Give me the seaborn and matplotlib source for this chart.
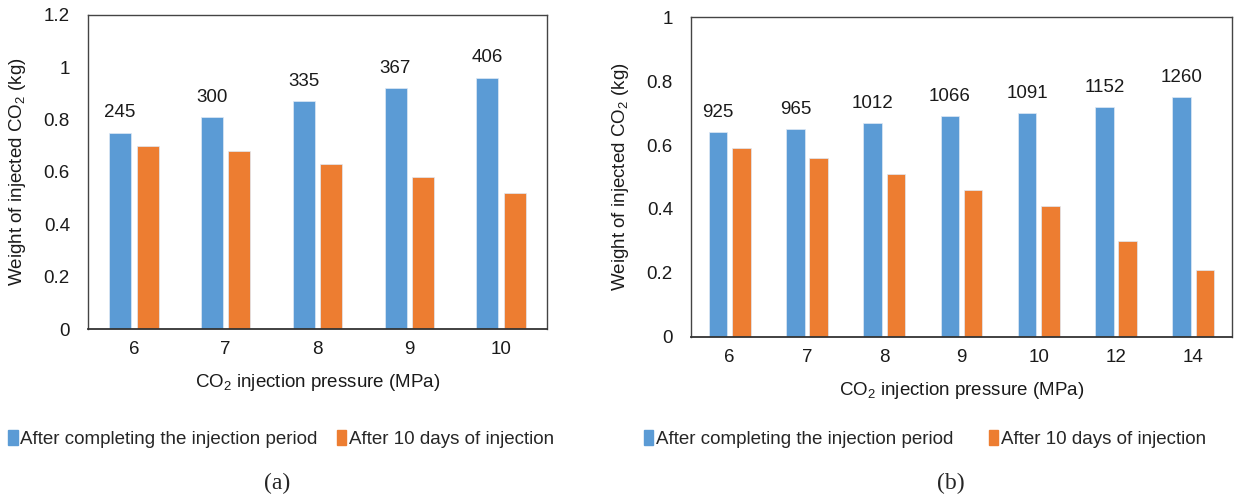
import pandas as pd
import matplotlib.pyplot as plt
import seaborn as sns

# (a) data
pressure_a = ["6", "7", "8", "9", "10"]
after_completing_a = [0.75, 0.81, 0.87, 0.92, 0.96]
after_10days_a = [0.70, 0.68, 0.63, 0.58, 0.52]
counts_a = ["245", "300", "335", "367", "406"]

# (b) data
pressure_b = ["6", "7", "8", "9", "10", "12", "14"]
after_completing_b = [0.64, 0.65, 0.67, 0.69, 0.70, 0.72, 0.75]
after_10days_b = [0.59, 0.56, 0.51, 0.46, 0.41, 0.30, 0.21]
counts_b = ["925", "965", "1012", "1066", "1091", "1152", "1260"]

series_names = ["After completing the injection period", "After 10 days of injection"]
colors = ["#5B9BD5", "#ED7D31"]

sns.set_theme(style="white")
plt.rcParams["font.family"] = ["Liberation Sans", "DejaVu Sans"]
plt.rcParams["mathtext.default"] = "regular"

FS = 13.5


def long_table(pressure, first, second):
    df = pd.DataFrame({
        "pressure": pressure * 2,
        "weight": first + second,
        "stage": [series_names[0]] * len(pressure) + [series_names[1]] * len(pressure),
    })
    return df


fig = plt.figure(figsize=(12.34, 4.99), dpi=100)

W, H = 1234, 499
ax_a = fig.add_axes([88 / W, (H - 329) / H, (547 - 88) / W, (329 - 14.7) / H])
ax_b = fig.add_axes([691 / W, (H - 336.7) / H, (1232 - 691) / W, (336.7 - 17.3) / H])

panels = [
    (ax_a, pressure_a, after_completing_a, after_10days_a, counts_a, 1.2),
    (ax_b, pressure_b, after_completing_b, after_10days_b, counts_b, 1.0),
]

for ax, pressure, first, second, counts, ymax in panels:
    df = long_table(pressure, first, second)
    sns.barplot(
        data=df, x="pressure", y="weight", hue="stage",
        order=pressure, hue_order=series_names, palette=colors, saturation=1,
        width=0.6, gap=0.2, edgecolor="#dfe9f5", linewidth=0.5,
        ax=ax, legend=False,
    )
    ax.bar_label(ax.containers[0], labels=counts, padding=8, fontsize=FS, color="#1a1a1a")
    ax.set_ylim(0, ymax)
    ticks = [round(0.2 * i, 1) for i in range(int(round(ymax / 0.2)) + 1)]
    ax.set_yticks(ticks)
    ax.set_yticklabels(["0" if t == 0 else ("1" if t == 1 else f"{t:g}") for t in ticks])
    ax.tick_params(axis="both", length=0, labelsize=FS, colors="#1a1a1a")
    ax.tick_params(axis="y", pad=13)
    ax.tick_params(axis="x", pad=9)
    ax.set_xlabel("CO$_2$ injection pressure (MPa)", fontsize=FS, color="#1a1a1a", labelpad=10)
    ax.set_ylabel("Weight of injected CO$_2$ (kg)", fontsize=FS, color="#1a1a1a", labelpad=11)
    for s in ax.spines.values():
        s.set_visible(True)
        s.set_color("#444444")
        s.set_linewidth(1.0)
    ax.spines["bottom"].set_color("#333333")
    ax.spines["bottom"].set_linewidth(1.3)

    handles = [plt.Rectangle((0, 0), 1, 1, color=c) for c in colors]
    if ax is ax_a:
        center, spacing = 281 / W, 1.0
    else:
        center, spacing = 925 / W, 1.9
    fig.legend(
        handles, series_names, loc="center", bbox_to_anchor=(center, 1 - 439 / H),
        ncol=2, frameon=False, fontsize=FS, handlelength=0.5, handleheight=0.9,
        handletextpad=0.15, columnspacing=spacing, borderaxespad=0, borderpad=0,
    )

fig.text(277 / W, 1 - 483 / H, "(a)", ha="center", va="center",
         fontsize=17, family=["Liberation Serif", "DejaVu Serif"])
fig.text(951 / W, 1 - 483 / H, "(b)", ha="center", va="center",
         fontsize=17, family=["Liberation Serif", "DejaVu Serif"])

fig.savefig("out.png", dpi=100)
plt.close()
